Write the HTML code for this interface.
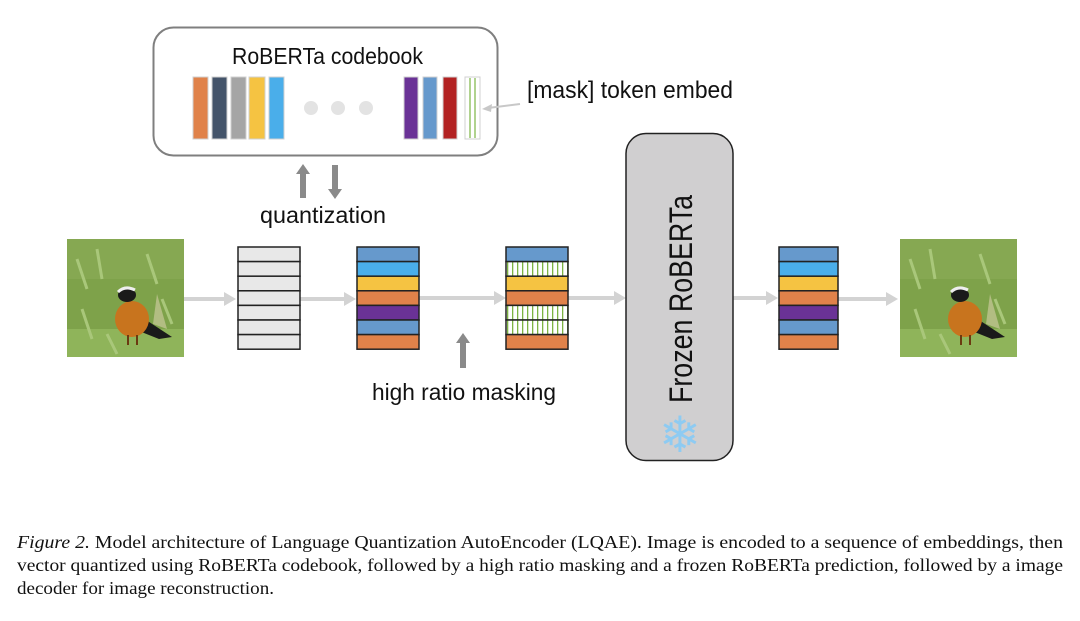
<!DOCTYPE html>
<html><head><meta charset="utf-8"><style>
html,body{margin:0;padding:0;background:#fff;}
svg{display:block;}
</style></head><body>
<svg width="1080" height="621" viewBox="0 0 1080 621" xmlns="http://www.w3.org/2000/svg">
<defs>
<pattern id="hatch" width="5" height="10" patternUnits="userSpaceOnUse">
<rect width="5" height="10" fill="#fff"/><rect x="1" width="1.3" height="10" fill="#7cb342"/>
</pattern>
<g id="bird">
<rect width="117" height="118" fill="#7ea24a"/>
<rect x="0" y="0" width="117" height="40" fill="#8aab55" opacity="0.7"/>
<rect x="0" y="90" width="117" height="28" fill="#8fb45a"/>
<path d="M10 20 L20 50 M30 10 L35 40 M80 15 L90 45 M95 60 L105 85 M15 70 L25 100 M40 95 L50 115" stroke="#a9c77a" stroke-width="3"/>
<path d="M70 75 L105 98 L92 100 L72 92 Z" fill="#1a1a1a"/>
<path d="M90 55 L100 90 L86 85 Z" fill="#c9c99a" opacity="0.7"/>
<ellipse cx="65" cy="80" rx="17" ry="18" fill="#c8741e"/>
<ellipse cx="60" cy="56" rx="9" ry="7" fill="#1a1a1a"/>
<path d="M51 53 Q58 46 68 51" stroke="#eee" stroke-width="3" fill="none"/>
<path d="M61 96 L61 106 M70 96 L70 106" stroke="#6b3a10" stroke-width="2"/>
</g>
</defs>

<!-- codebook -->
<rect x="153.5" y="27.5" width="344" height="128" rx="20" fill="#fff" stroke="#7f7f7f" stroke-width="2"/>
<text x="232" y="64" font-family="Liberation Sans, sans-serif" font-size="23" textLength="191" lengthAdjust="spacingAndGlyphs" fill="#111">RoBERTa codebook</text>
<g stroke="#d0d0d0" stroke-width="1">
<rect x="193" y="77" width="15" height="62" fill="#e0824a"/>
<rect x="212" y="77" width="15" height="62" fill="#44546a"/>
<rect x="231" y="77" width="15" height="62" fill="#a5a5a5"/>
<rect x="249" y="77" width="16" height="62" fill="#f5c342"/>
<rect x="269" y="77" width="15" height="62" fill="#4aaeea"/>
<rect x="404" y="77" width="14" height="62" fill="#6a3296"/>
<rect x="423" y="77" width="14" height="62" fill="#6699cc"/>
<rect x="443" y="77" width="14" height="62" fill="#b22222"/>
<rect x="465" y="77" width="15" height="62" fill="#fff"/>
</g>
<line x1="470" y1="78" x2="470" y2="138" stroke="#7cb342" stroke-width="1.2"/>
<line x1="475" y1="78" x2="475" y2="138" stroke="#7cb342" stroke-width="1.2"/>
<circle cx="311" cy="108" r="7" fill="#e3e3e3"/>
<circle cx="338" cy="108" r="7" fill="#e3e3e3"/>
<circle cx="366" cy="108" r="7" fill="#e3e3e3"/>
<text x="527" y="98" font-family="Liberation Sans, sans-serif" font-size="24" textLength="206" lengthAdjust="spacingAndGlyphs" fill="#111">[mask] token embed</text>
<line x1="520" y1="104" x2="488" y2="108" stroke="#c8c8c8" stroke-width="2"/>
<path d="M482 109 L492 104 L491 112 Z" fill="#c8c8c8"/>

<!-- quantization arrows -->
<path d="M300 198 L300 174 L296 174 L303 164 L310 174 L306 174 L306 198 Z" fill="#8a8a8a"/>
<path d="M332 165 L338 165 L338 189 L342 189 L335 199 L328 189 L332 189 Z" fill="#8a8a8a"/>
<text x="323" y="223" font-family="Liberation Sans, sans-serif" font-size="23" text-anchor="middle" textLength="126" lengthAdjust="spacingAndGlyphs" fill="#111">quantization</text>

<!-- birds -->
<use href="#bird" x="67" y="239"/>
<use href="#bird" x="900" y="239"/>

<!-- arrows -->
<g stroke="#d3d3d3" stroke-width="4">
<line x1="184" y1="299" x2="226" y2="299"/>
<line x1="300" y1="299" x2="346" y2="299"/>
<line x1="419" y1="298" x2="496" y2="298"/>
<line x1="568" y1="298" x2="616" y2="298"/>
<line x1="733" y1="298" x2="768" y2="298"/>
<line x1="838" y1="299" x2="888" y2="299"/>
</g>
<g fill="#d3d3d3">
<path d="M224 292 L236 299 L224 306 Z"/>
<path d="M344 292 L356 299 L344 306 Z"/>
<path d="M494 291 L506 298 L494 305 Z"/>
<path d="M614 291 L626 298 L614 305 Z"/>
<path d="M766 291 L778 298 L766 305 Z"/>
<path d="M886 292 L898 299 L886 306 Z"/>
</g>

<!-- sequences -->
<g stroke="#222" stroke-width="1.5">
<g fill="#e8e8e8">
<rect x="238" y="247" width="62" height="14.6"/><rect x="238" y="261.6" width="62" height="14.6"/><rect x="238" y="276.2" width="62" height="14.6"/><rect x="238" y="290.8" width="62" height="14.6"/><rect x="238" y="305.4" width="62" height="14.6"/><rect x="238" y="320" width="62" height="14.6"/><rect x="238" y="334.6" width="62" height="14.6"/>
</g>
<g transform="translate(357,0)">
<rect y="247" width="62" height="14.6" fill="#6699cc"/><rect y="261.6" width="62" height="14.6" fill="#4aaeea"/><rect y="276.2" width="62" height="14.6" fill="#f5c342"/><rect y="290.8" width="62" height="14.6" fill="#e0824a"/><rect y="305.4" width="62" height="14.6" fill="#6a3296"/><rect y="320" width="62" height="14.6" fill="#6699cc"/><rect y="334.6" width="62" height="14.6" fill="#e0824a"/>
</g>
<g transform="translate(506,0)">
<rect y="247" width="62" height="14.6" fill="#6699cc"/><rect y="261.6" width="62" height="14.6" fill="url(#hatch)"/><rect y="276.2" width="62" height="14.6" fill="#f5c342"/><rect y="290.8" width="62" height="14.6" fill="#e0824a"/><rect y="305.4" width="62" height="14.6" fill="url(#hatch)"/><rect y="320" width="62" height="14.6" fill="url(#hatch)"/><rect y="334.6" width="62" height="14.6" fill="#e0824a"/>
</g>
<g transform="translate(779,0)">
<rect y="247" width="59" height="14.6" fill="#6699cc"/><rect y="261.6" width="59" height="14.6" fill="#4aaeea"/><rect y="276.2" width="59" height="14.6" fill="#f5c342"/><rect y="290.8" width="59" height="14.6" fill="#e0824a"/><rect y="305.4" width="59" height="14.6" fill="#6a3296"/><rect y="320" width="59" height="14.6" fill="#6699cc"/><rect y="334.6" width="59" height="14.6" fill="#e0824a"/>
</g>
</g>

<!-- masking arrow -->
<path d="M460 368 L460 343 L456 343 L463 333 L470 343 L466 343 L466 368 Z" fill="#8a8a8a"/>
<text x="464" y="400" font-family="Liberation Sans, sans-serif" font-size="23" text-anchor="middle" textLength="184" lengthAdjust="spacingAndGlyphs" fill="#111">high ratio masking</text>

<!-- frozen roberta -->
<rect x="626" y="133.5" width="107" height="327" rx="20" fill="#d0cfd0" stroke="#222" stroke-width="1.5"/>
<text transform="translate(692,299) rotate(-90)" font-family="Liberation Sans, sans-serif" font-size="32" text-anchor="middle" textLength="208" lengthAdjust="spacingAndGlyphs" fill="#111">Frozen RoBERTa</text>
<text x="680" y="452" font-family="DejaVu Sans, sans-serif" font-size="50" text-anchor="middle" fill="#8ecbf2">❄</text>

<!-- caption -->
<g font-family="Liberation Serif, serif" font-size="18" fill="#111">
<text x="17" y="548" textLength="1046" lengthAdjust="spacingAndGlyphs"><tspan font-style="italic">Figure 2.</tspan> Model architecture of Language Quantization AutoEncoder (LQAE). Image is encoded to a sequence of embeddings, then</text>
<text x="17" y="571" textLength="1046" lengthAdjust="spacingAndGlyphs">vector quantized using RoBERTa codebook, followed by a high ratio masking and a frozen RoBERTa prediction, followed by a image</text>
<text x="17" y="594" textLength="257" lengthAdjust="spacingAndGlyphs">decoder for image reconstruction.</text>
</g>
</svg>
</body></html>
